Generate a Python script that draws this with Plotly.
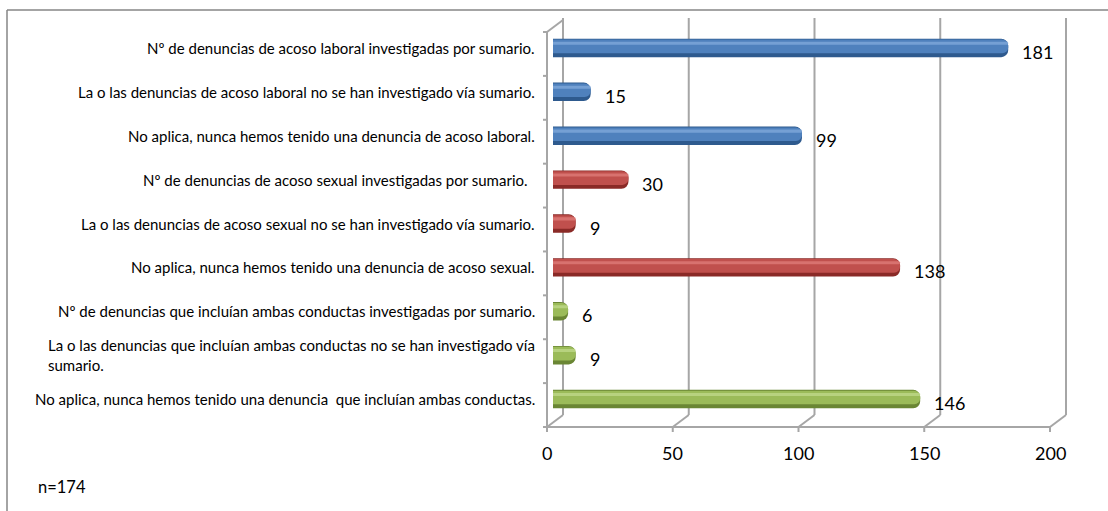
import plotly.graph_objects as go

# ---------------- data ----------------
categories = [
    "Nº de denuncias de acoso laboral investigadas por sumario.",
    "La o las denuncias de acoso laboral no se han investigado vía sumario.",
    "No aplica, nunca hemos tenido una denuncia de acoso laboral.",
    "Nº de denuncias de acoso sexual investigadas por sumario.\u00a0\u00a0",
    "La o las denuncias de acoso sexual no se han investigado vía sumario.",
    "No aplica, nunca hemos tenido una denuncia de acoso sexual.",
    "Nº de denuncias que incluían ambas conductas investigadas por sumario.",
    "La o las denuncias que incluían ambas conductas no se han investigado vía<br>sumario.",
    "No aplica, nunca hemos tenido una denuncia \u00a0que incluían ambas conductas.",
]
values = [181, 15, 99, 30, 9, 138, 6, 9, 146]
groups = ["laboral", "laboral", "laboral", "sexual", "sexual", "sexual", "ambas", "ambas", "ambas"]
x_ticks = [0, 50, 100, 150, 200]
note = "n=174"

# ---------------- style ----------------
palette = {
    "laboral": {"dark": "#2E5A8E", "main": "#4F81BD", "light": "#86AEDF"},
    "sexual": {"dark": "#8A2A27", "main": "#C0504D", "light": "#E3817E"},
    "ambas": {"dark": "#6A8634", "main": "#9BBB59", "light": "#C3DD90"},
}
FONT = "Lato"
GRID = "#A6A6A6"
W, H = 1108, 511


def fx(p):
    return p / W


def fy(p):
    return 1 - p / H


# bar plane in pixels (value 0 .. 200); front/back planes are offsets from it
PLOT_X = (553, 1056)
PLOT_Y = (26, 421)
PAD = 24                        # extra pixels on both sides so frame lines are not clipped
FRONT_DX, FRONT_DY = -6, 6      # front plane relative to bar plane
BACK_DX, BACK_DY = 10, -6       # back plane relative to bar plane
n = len(values)
xmin, xmax = x_ticks[0], x_ticks[-1]
upp = (xmax - xmin) / (PLOT_X[1] - PLOT_X[0])      # data units per pixel (x)
row_px = (PLOT_Y[1] - PLOT_Y[0]) / n               # pixels per category row
front_bottom = PLOT_Y[1] + FRONT_DY
front_top = PLOT_Y[0] + FRONT_DY
back_bottom = PLOT_Y[1] + BACK_DY
back_top = 18

pos = list(range(n))
dark = [palette[g]["dark"] for g in groups]
main = [palette[g]["main"] for g in groups]
light = [palette[g]["light"] for g in groups]

fig = go.Figure()
fig.add_trace(go.Bar(x=values, y=pos, orientation="h", width=0.42, offset=-0.21,
                     marker=dict(color=dark, line=dict(width=0), cornerradius=7),
                     hoverinfo="skip", showlegend=False))
fig.add_trace(go.Bar(x=values, y=pos, orientation="h", width=0.31, offset=-0.19,
                     marker=dict(color=main, line=dict(width=0), cornerradius=6),
                     hoverinfo="skip", showlegend=False))
fig.add_trace(go.Bar(x=values, y=pos, orientation="h", width=0.07, offset=-0.14,
                     marker=dict(color=light, line=dict(width=0), cornerradius=2),
                     opacity=0.7, hoverinfo="skip", showlegend=False))

line_style = dict(color=GRID, width=2)
shapes = []
for v in x_ticks:
    # back wall gridline
    shapes.append(dict(type="line", xref="x", yref="paper",
                       x0=v + BACK_DX * upp, x1=v + BACK_DX * upp,
                       y0=fy(back_bottom), y1=fy(back_top), line=line_style, layer="below"))
    # floor diagonal
    shapes.append(dict(type="line", xref="x", yref="paper",
                       x0=v + FRONT_DX * upp, x1=v + BACK_DX * upp,
                       y0=fy(front_bottom), y1=fy(back_bottom), line=line_style, layer="below"))
    # front axis tick mark
    shapes.append(dict(type="line", xref="x", yref="paper",
                       x0=v + FRONT_DX * upp, x1=v + FRONT_DX * upp,
                       y0=fy(front_bottom), y1=fy(front_bottom + 5), line=line_style, layer="below"))
# front axis line
shapes.append(dict(type="line", xref="x", yref="paper",
                   x0=xmin + FRONT_DX * upp, x1=xmax + FRONT_DX * upp,
                   y0=fy(front_bottom), y1=fy(front_bottom), line=line_style, layer="below"))
# left (category) axis line and tick marks
shapes.append(dict(type="line", xref="x", yref="paper",
                   x0=xmin + FRONT_DX * upp, x1=xmin + FRONT_DX * upp,
                   y0=fy(front_bottom), y1=fy(front_top), line=line_style, layer="below"))
for k in range(n + 1):
    yb = fy(front_top + k * row_px)
    shapes.append(dict(type="line", xref="x", yref="paper",
                       x0=xmin + (FRONT_DX - 4) * upp, x1=xmin + FRONT_DX * upp,
                       y0=yb, y1=yb, line=line_style, layer="below"))
# side wall top diagonal
shapes.append(dict(type="line", xref="x", yref="paper",
                   x0=xmin + FRONT_DX * upp, x1=xmin + BACK_DX * upp,
                   y0=fy(front_top), y1=fy(back_top + 2), line=line_style, layer="below"))
# outer chart border (top and left edges)
shapes.append(dict(type="line", xref="paper", yref="paper", x0=fx(7), x1=1,
                   y0=fy(10), y1=fy(10), line=dict(color="#868686", width=1.5)))
shapes.append(dict(type="line", xref="paper", yref="paper", x0=fx(7), x1=fx(7),
                   y0=fy(10), y1=0, line=dict(color="#868686", width=1.5)))

annotations = []
for i, (c, v) in enumerate(zip(categories, values)):
    annotations.append(dict(x=fx(537), y=i, xref="paper", yref="y", text=c,
                            xanchor="right", yanchor="middle", align="left",
                            showarrow=False, font=dict(family=FONT, size=15, color="#000")))
    annotations.append(dict(x=v, y=i, xref="x", yref="y", text=str(v),
                            xanchor="left", yanchor="middle", xshift=12, yshift=-4,
                            showarrow=False, font=dict(family=FONT, size=18, color="#000")))
for v in x_ticks:
    annotations.append(dict(x=v + FRONT_DX * upp, y=fy(453), xref="x", yref="paper",
                            text=str(v), xanchor="center", yanchor="middle",
                            showarrow=False, font=dict(family=FONT, size=18, color="#000")))
annotations.append(dict(x=fx(36), y=fy(487), xref="paper", yref="paper", text=note,
                        xanchor="left", yanchor="middle", showarrow=False,
                        font=dict(family=FONT, size=16.5, color="#000")))

fig.update_layout(
    width=W, height=H, autosize=False,
    margin=dict(l=0, r=0, t=0, b=0),
    paper_bgcolor="white", plot_bgcolor="rgba(0,0,0,0)",
    barmode="overlay",
    font=dict(family=FONT, color="#000"),
    xaxis=dict(domain=[fx(PLOT_X[0] - PAD), fx(PLOT_X[1] + PAD)],
               range=[xmin - PAD * upp, xmax + PAD * upp],
               visible=False, fixedrange=True),
    yaxis=dict(domain=[fy(PLOT_Y[1]), fy(PLOT_Y[0])], range=[n - 0.5, -0.5],
               visible=False, fixedrange=True),
    shapes=shapes,
    annotations=annotations,
)

fig.write_html("out.html")
